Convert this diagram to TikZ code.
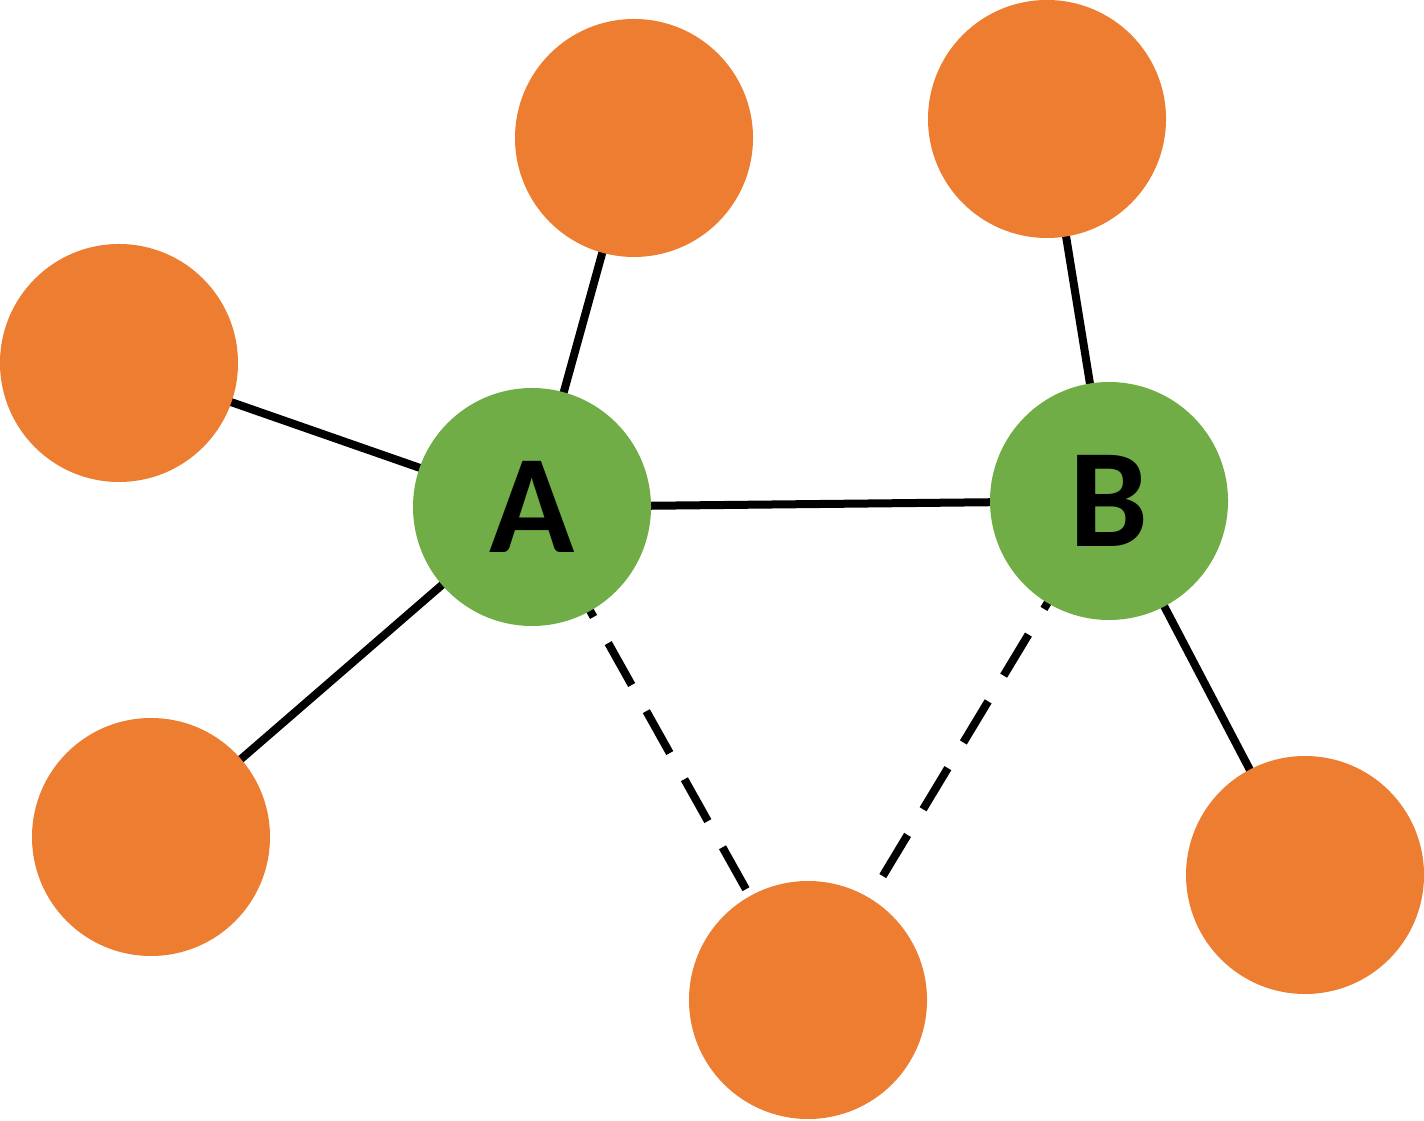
\documentclass[tikz,border=0pt]{standalone}
\usepackage{fontspec}
\setmainfont{Carlito}
\definecolor{leaforange}{HTML}{ED7D31}
\definecolor{hubgreen}{HTML}{70AD47}
\begin{document}
\begin{tikzpicture}[
    leaf/.style = {circle, fill=leaforange, minimum size=2.38cm, inner sep=0pt},
    hub/.style  = {circle, fill=hubgreen, minimum size=2.38cm, inner sep=0pt,
                   font=\fontsize{40}{48}\selectfont\bfseries},
    link/.style = {line width=0.08cm},
    weak/.style = {line width=0.08cm, dash pattern=on 0.48cm off 0.3cm}]
        \useasboundingbox (0,0) rectangle (14.24,11.2);
        \coordinate (pA)   at ( 5.32, 6.13);
        \coordinate (pB)   at (11.09, 6.19);
        \draw[link] (pA) -- (pB);
        \draw[link] (pA) -- (6.34, 9.82)  coordinate (pTopA);
        \draw[link] (pA) -- (1.19, 7.57)  coordinate (pLeft);
        \draw[link] (pA) -- (1.51, 2.83)  coordinate (pLow);
        \draw[link] (pB) -- (10.47,10.01) coordinate (pTopB);
        \draw[link] (pB) -- (13.05, 2.45) coordinate (pRight);
        \coordinate (pBot) at (8.08, 1.20);
        \draw[weak] (pA) -- (pBot);
        \draw[weak] (pB) -- (pBot);
        \node[leaf] (topA)  at (pTopA)  {};
        \node[leaf] (left)  at (pLeft)  {};
        \node[leaf] (low)   at (pLow)   {};
        \node[leaf] (topB)  at (pTopB)  {};
        \node[leaf] (right) at (pRight) {};
        \node[leaf] (bot)   at (pBot)   {};
        \node[hub]  (A)     at (pA)     {A};
        \node[hub]  (B)     at (pB)     {B};
      \end{tikzpicture}
\end{document}
